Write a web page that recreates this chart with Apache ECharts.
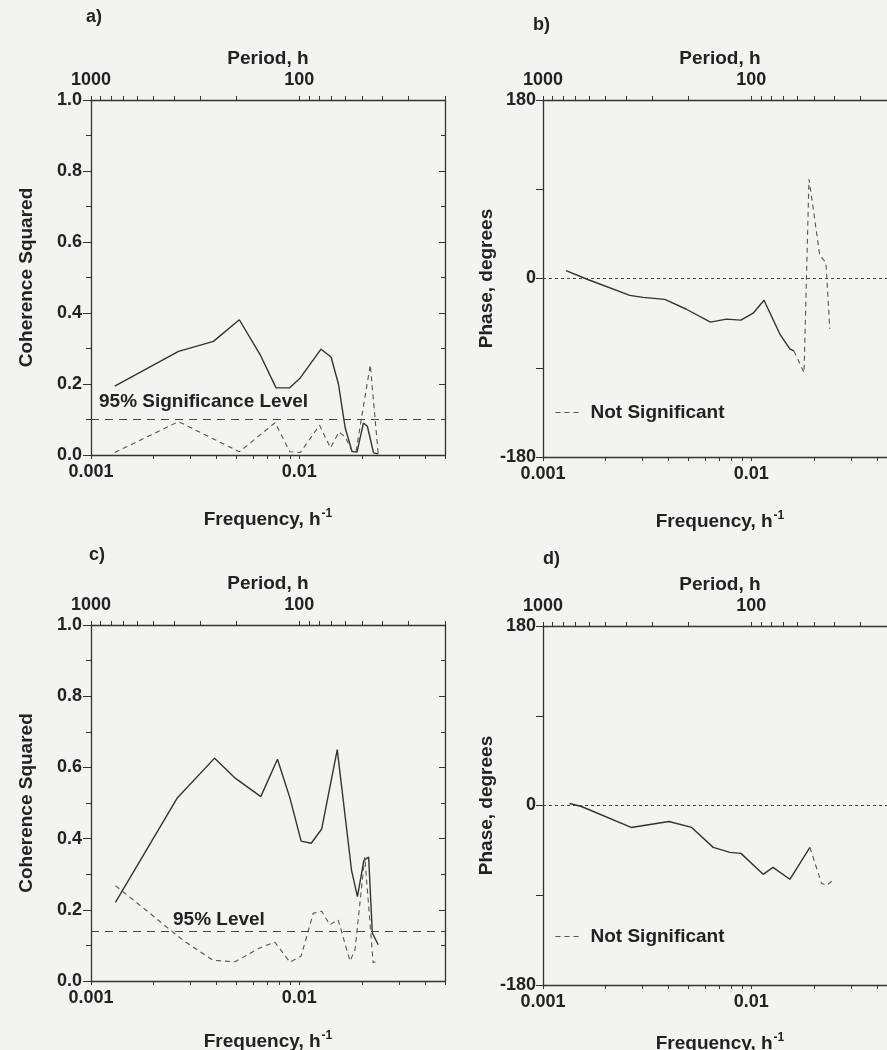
<!DOCTYPE html>
<html>
<head>
<meta charset="utf-8">
<title>Coherence and phase</title>
<script src="https://cdn.jsdelivr.net/npm/echarts@6/dist/echarts.min.js"></script>
<style>
html, body { margin: 0; padding: 0; background: #f3f3f1; }
#main { width: 887px; height: 1050px; }
</style>
</head>
<body>
<div id="main"></div>
<script>
// panel a) coherence squared
var freqA = [0.00130, 0.00263, 0.00387, 0.00515, 0.00648, 0.00773, 0.00896, 0.0101, 0.0127, 0.0142, 0.0154, 0.0166, 0.0179, 0.0189, 0.0203, 0.0212, 0.0227, 0.0239];
var cohA = [0.194, 0.292, 0.320, 0.381, 0.283, 0.189, 0.189, 0.217, 0.298, 0.276, 0.200, 0.076, 0.010, 0.008, 0.090, 0.081, 0.006, 0.003];
var freqANs = [0.00130, 0.00263, 0.00515, 0.00765, 0.0090, 0.0101, 0.0125, 0.0141, 0.0155, 0.0166, 0.0179, 0.0187, 0.0219, 0.0239];
var cohANs = [0.007, 0.094, 0.009, 0.091, 0.009, 0.007, 0.084, 0.020, 0.065, 0.051, 0.010, 0.010, 0.254, 0.003];
var sigA = 0.104;

// panel b) phase
var freqB = [0.00129, 0.00164, 0.00261, 0.00302, 0.00384, 0.00488, 0.00636, 0.00759, 0.00890, 0.0102, 0.0115, 0.0137, 0.0153, 0.0160];
var phaseB = [8, -1, -17, -19, -21, -31, -44, -41, -42, -35, -22, -56, -71, -73];
var freqBNs = [0.0160, 0.0179, 0.0189, 0.0198, 0.0213, 0.0228, 0.0238];
var phaseBNs = [-73, -95, 100, 71, 23, 16, -51];

// panel c) coherence squared
var freqC = [0.00131, 0.00260, 0.00392, 0.00494, 0.00653, 0.00785, 0.0090, 0.0102, 0.0114, 0.0128, 0.0152, 0.0178, 0.0190, 0.0204, 0.0215, 0.0224, 0.0239];
var cohC = [0.221, 0.515, 0.626, 0.569, 0.518, 0.623, 0.515, 0.393, 0.387, 0.427, 0.650, 0.311, 0.237, 0.339, 0.348, 0.135, 0.102];
var freqCNs = [0.00131, 0.00192, 0.00239, 0.00282, 0.00386, 0.00491, 0.00646, 0.00763, 0.0090, 0.0102, 0.01165, 0.0128, 0.0140, 0.01535, 0.0175, 0.0185, 0.0206, 0.0226, 0.0236];
var cohCNs = [0.268, 0.190, 0.144, 0.111, 0.058, 0.054, 0.093, 0.109, 0.053, 0.070, 0.190, 0.196, 0.158, 0.172, 0.056, 0.088, 0.348, 0.051, 0.056];
var sigC = 0.138;

// panel d) phase
var freqD = [0.00134, 0.00153, 0.00265, 0.00402, 0.00517, 0.00656, 0.00789, 0.00891, 0.0114, 0.0127, 0.0153, 0.0191];
var phaseD = [2, -1, -22, -16, -22, -42, -47, -48, -69, -62, -74, -42];
var freqDNs = [0.0191, 0.0217, 0.0230, 0.0243];
var phaseDNs = [-42, -78, -80, -76];

// axis ticks
var freqTicks = [0.001, 0.002, 0.003, 0.004, 0.005, 0.006, 0.007, 0.008, 0.009, 0.01, 0.02, 0.03, 0.04, 0.05];
var freqLabels = [0.001, 0.01];
var freqLabelText = ['0.001', '0.01'];
var periodTicks = [1000, 900, 800, 700, 600, 500, 400, 300, 200, 100, 90, 80, 70, 60, 50, 40, 30, 20];
var periodLabels = [1000, 100];
var phaseLabels = [180, 0, -180];

var FONT = 'Liberation Sans';
var INK = '#222';
var LINE = '#333';

function zip(xs, ys) {
	var out = [];
	for (var i = 0; i < xs.length; i++) {
		out.push([xs[i], ys[i]]);
	}
	return out;
}

function txt(size) {
	return {fontFamily: FONT, fontSize: size, fontWeight: 'bold', color: INK};
}

var grids = [
	{left: 91, top: 100, width: 354, height: 355},
	{left: 543, top: 100, width: 354, height: 357},
	{left: 91, top: 625, width: 354, height: 356},
	{left: 543, top: 626, width: 354, height: 359}
];

var xAxes = [];
var yAxes = [];

function addFreqAxes(gi, gap) {
	xAxes.push({
		type: 'log', logBase: 10, gridIndex: gi, position: 'bottom',
		min: 0.001, max: 0.05,
		axisLine: {onZero: false, lineStyle: {color: LINE, width: 1.3}},
		axisTick: {length: 4, customValues: freqTicks, lineStyle: {color: LINE}},
		axisLabel: Object.assign(txt(18), {
			customValues: freqLabels, margin: 8,
			formatter: function(v) {
				var i = freqLabels.indexOf(Number(v.toPrecision(3)));
				return i >= 0 ? freqLabelText[i] : '';
			}
		}),
		splitLine: {show: false},
		name: 'Frequency, h{s|-1}', nameLocation: 'middle', nameGap: gap,
		nameTextStyle: Object.assign(txt(19), {
			rich: {s: {fontFamily: FONT, fontSize: 12, fontWeight: 'bold', color: INK, padding: [0, 0, 11, 1]}}
		})
	});
	xAxes.push({
		type: 'log', logBase: 10, gridIndex: gi, position: 'top',
		min: 20, max: 1000, inverse: true,
		axisLine: {onZero: false, lineStyle: {color: LINE, width: 1.3}},
		axisTick: {length: 4, customValues: periodTicks, lineStyle: {color: LINE}},
		axisLabel: Object.assign(txt(18), {customValues: periodLabels, margin: 11,
			formatter: function(v) { return String(Math.round(v)); }}),
		splitLine: {show: false},
		name: 'Period, h', nameLocation: 'middle', nameGap: 32,
		nameTextStyle: txt(19)
	});
}

function addCohAxes(gi) {
	yAxes.push({
		type: 'value', gridIndex: gi, position: 'left', min: 0, max: 1, interval: 0.2,
		axisLine: {onZero: false, lineStyle: {color: LINE, width: 1.3}},
		axisTick: {length: 8, lineStyle: {color: LINE}},
		minorTick: {show: true, splitNumber: 2, length: 5, lineStyle: {color: LINE}},
		axisLabel: Object.assign(txt(18), {margin: 9, formatter: function(v) { return v.toFixed(1); }}),
		splitLine: {show: false},
		name: 'Coherence Squared', nameLocation: 'middle', nameGap: 55,
		nameTextStyle: txt(19)
	});
	yAxes.push({
		type: 'value', gridIndex: gi, position: 'right', min: 0, max: 1, interval: 0.2,
		axisLine: {onZero: false, lineStyle: {color: LINE, width: 1.3}},
		axisTick: {inside: true, length: 6, lineStyle: {color: LINE}},
		minorTick: {show: true, splitNumber: 2, length: 4, lineStyle: {color: LINE}},
		axisLabel: {show: false},
		splitLine: {show: false}
	});
}

function addPhaseAxes(gi) {
	yAxes.push({
		type: 'value', gridIndex: gi, position: 'left', min: -180, max: 180, interval: 90,
		axisLine: {onZero: false, lineStyle: {color: LINE, width: 1.3}},
		axisTick: {length: 7, lineStyle: {color: LINE}},
		axisLabel: Object.assign(txt(18), {margin: 7, formatter: function(v) {
			return phaseLabels.indexOf(v) >= 0 ? String(v) : '';
		}}),
		splitLine: {show: false},
		name: 'Phase, degrees', nameLocation: 'middle', nameGap: 42,
		nameTextStyle: txt(19)
	});
	yAxes.push({
		type: 'value', gridIndex: gi, position: 'right', min: -180, max: 180, interval: 90,
		axisLine: {onZero: false, lineStyle: {color: LINE, width: 1.3}},
		axisTick: {inside: true, length: 6, lineStyle: {color: LINE}},
		axisLabel: {show: false},
		splitLine: {show: false}
	});
}

addFreqAxes(0, 53); addCohAxes(0);
addFreqAxes(1, 53); addPhaseAxes(1);
addFreqAxes(2, 49); addCohAxes(2);
addFreqAxes(3, 47); addPhaseAxes(3);

function solid(name, gi, xs, ys, refLine) {
	var s = {
		name: name, type: 'line', xAxisIndex: gi * 2, yAxisIndex: gi * 2,
		data: zip(xs, ys), symbol: 'none', silent: true,
		lineStyle: {color: '#333', width: 1.4}
	};
	if (refLine) {
		s.markLine = {
			silent: true, symbol: 'none', label: {show: false},
			lineStyle: {color: '#444', width: refLine.width, type: refLine.dash},
			data: [{yAxis: refLine.value}]
		};
	}
	return s;
}

function dashed(name, gi, xs, ys) {
	return {
		name: name, type: 'line', xAxisIndex: gi * 2, yAxisIndex: gi * 2,
		data: zip(xs, ys), symbol: 'none', silent: true,
		itemStyle: {color: '#555'},
		lineStyle: {color: '#555', width: 1.1, type: [5, 4]}
	};
}

var series = [
	solid('a', 0, freqA, cohA, {value: sigA, dash: [8, 6], width: 1.2}),
	dashed('a ns', 0, freqANs, cohANs),
	solid('b', 1, freqB, phaseB, {value: 0, dash: [3, 3], width: 1}),
	dashed('Not Significant', 1, freqBNs, phaseBNs),
	solid('c', 2, freqC, cohC, {value: sigC, dash: [8, 6], width: 1.2}),
	dashed('c ns', 2, freqCNs, cohCNs),
	solid('d', 3, freqD, phaseD, {value: 0, dash: [3, 3], width: 1}),
	dashed('Not Significant', 3, freqDNs, phaseDNs)
];

function legendAt(top) {
	return {
		left: 550, top: top, orient: 'horizontal', selectedMode: false,
		data: ['Not Significant'], itemWidth: 27, itemHeight: 10,
		itemStyle: {opacity: 0},
		lineStyle: {color: '#555', width: 1, type: [5, 4]},
		textStyle: Object.assign(txt(19), {padding: [0, 0, 0, 3]})
	};
}

function label(text, x, y, size) {
	return {type: 'text', left: x, top: y, silent: true,
		style: {text: text, font: 'bold ' + size + 'px "' + FONT + '"', fill: INK}};
}

var option = {
	backgroundColor: '#f3f3f1',
	animation: false,
	grid: grids.map(function(g) { return Object.assign({outerBoundsMode: 'none', containLabel: false}, g); }),
	xAxis: xAxes,
	yAxis: yAxes,
	legend: [legendAt(398), legendAt(922)],
	series: series,
	graphic: [
		label('a)', 86, 8, 18),
		label('b)', 533, 16, 18),
		label('c)', 89, 546, 18),
		label('d)', 543, 550, 18),
		label('95% Significance Level', 99, 392, 19),
		label('95% Level', 173, 910, 19)
	]
};

var chart = echarts.init(document.getElementById('main'), null, {renderer: 'canvas'});
chart.setOption(option);
</script>
</body>
</html>
